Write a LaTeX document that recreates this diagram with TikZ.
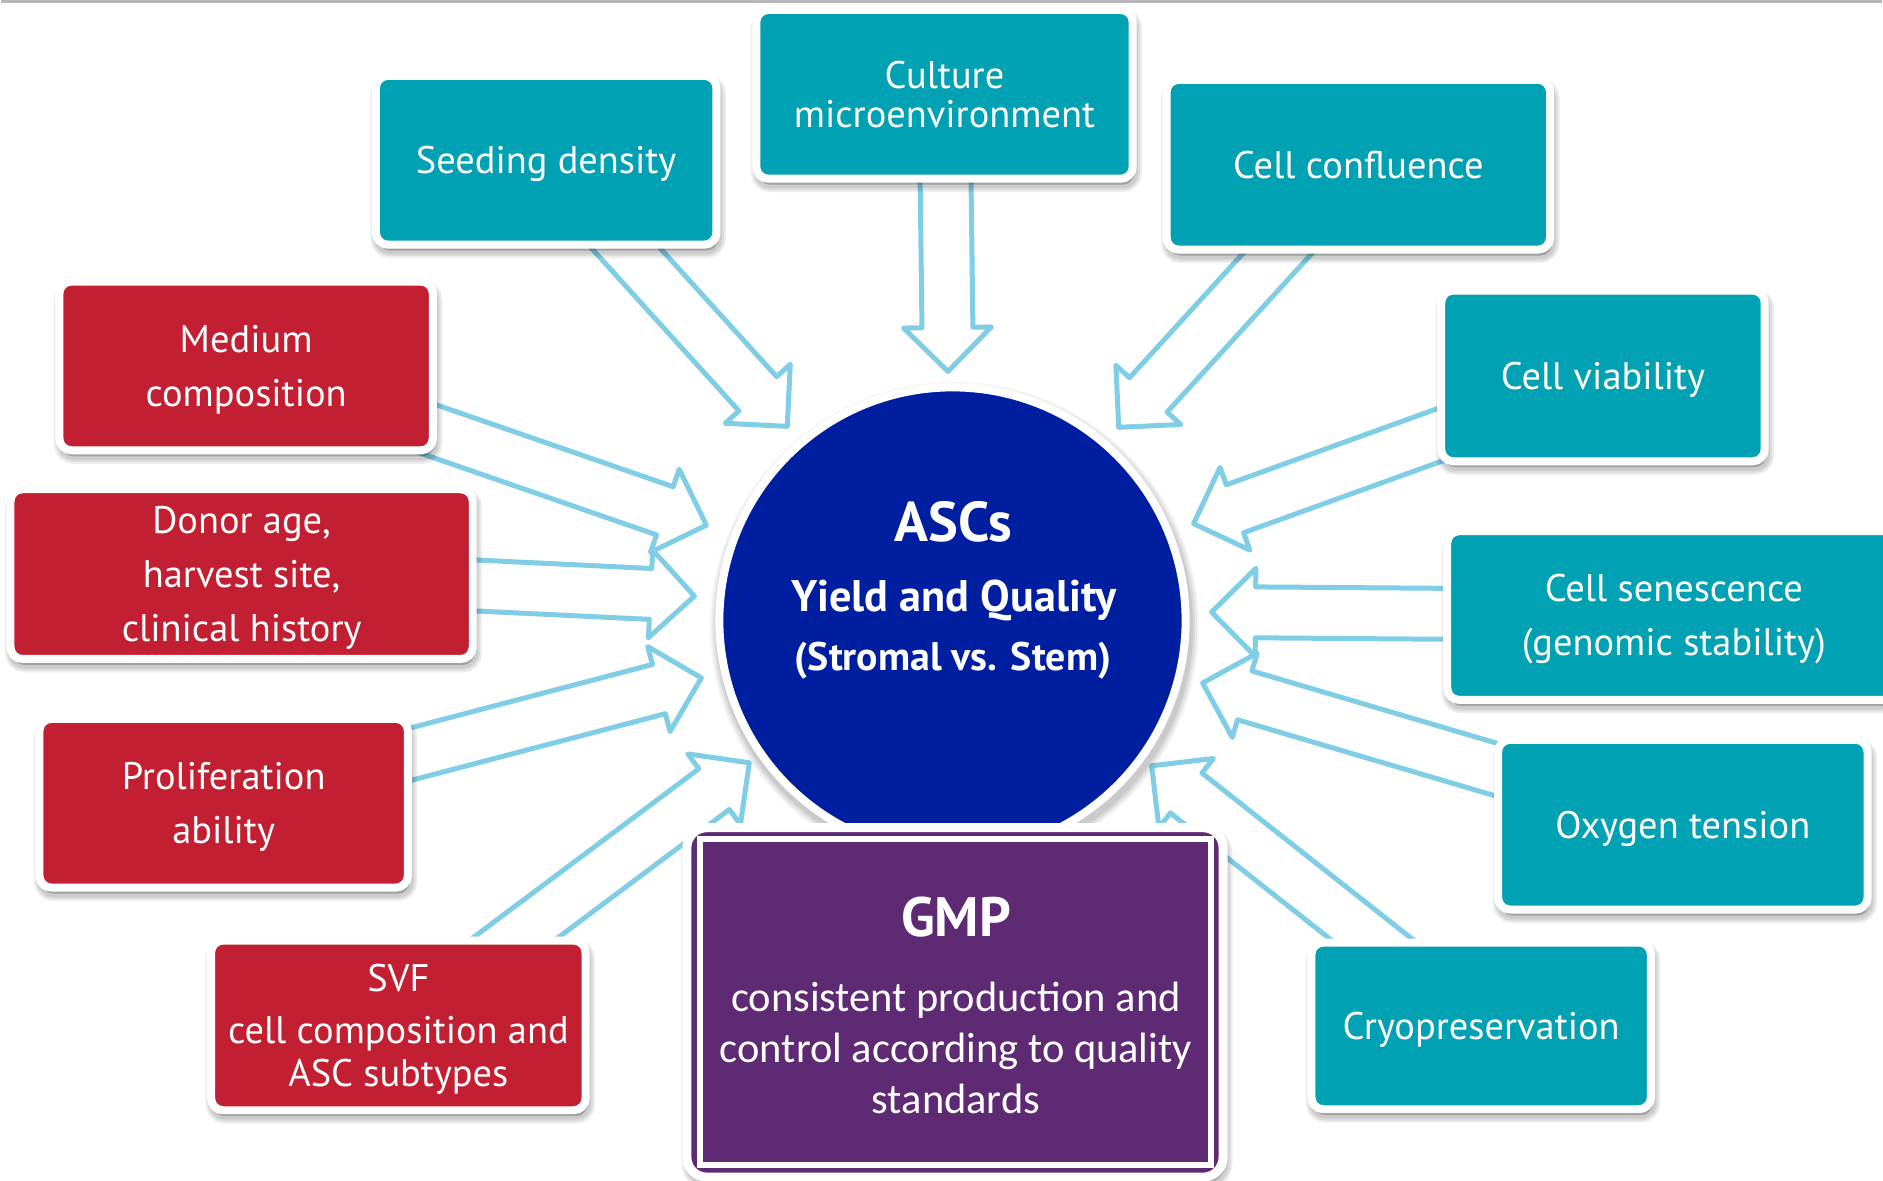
\documentclass[tikz,border=0pt]{standalone}
\usepackage{fontspec}
\setmainfont{PT Sans}
\newfontfamily\bodyfont{Carlito}
\usetikzlibrary{calc}

\definecolor{tealbox}{RGB}{0,161,178}
\definecolor{redbox}{RGB}{194,32,50}
\definecolor{gmppurple}{RGB}{94,42,116}
\definecolor{ascblue}{RGB}{0,30,160}
\definecolor{arrowblue}{RGB}{128,205,230}

\pgfdeclarelayer{back}
\pgfdeclarelayer{arrows}
\pgfsetlayers{back,arrows,main}

% top strut: with the bottom strut below it keeps lines optically centred
\newcommand\ts{\rule{0pt}{0.95em}}

\tikzset{
  shadowstep/.style={preaction={draw=black, fill=black, line width=#1,
      opacity=0.07, transform canvas={shift={(0.2mm,-0.6mm)}}}},
  softshadow/.style={shadowstep=1.5mm, shadowstep=1.1mm, shadowstep=0.7mm},
  evenlines/.style={execute at end node={\rule[-0.25em]{0pt}{0.25em}}},
  factor/.style={draw=white, line width=0.8mm, rounded corners=1.2mm,
      text=white, align=center, inner sep=0pt, softshadow, evenlines,
      font=\fontsize{10.95}{15.4}\selectfont},
  cellbox/.style={factor, fill=tealbox},
  donorbox/.style={factor, fill=redbox},
  hollow/.style={draw=arrowblue, line width=0.5mm, line join=round, line cap=round},
  whitetext/.style={text=white, inner sep=0pt},
}

% hollow block arrow from a box (#1) to a tip coordinate (#2)
\newcommand\hollowarrow[2]{%
  \coordinate (hb) at ($(#2)!4.4mm!(#1)$);
  \draw[hollow] ($(#1)!2.55mm!90:(#2)$) -- ($(hb)!2.55mm!90:(#2)$)
    -- ($(hb)!4.4mm!90:(#2)$) -- (#2) -- ($(hb)!4.4mm!-90:(#2)$)
    -- ($(hb)!2.55mm!-90:(#2)$) -- ($(#1)!2.55mm!-90:(#2)$);
}

\begin{document}
\begin{tikzpicture}[x=0.1mm,y=-0.1mm]
\begin{pgfonlayer}{back}
  \fill[white] (0,0) rectangle (1883,1182);
  \draw[black!28, line width=0.3mm] (0,1.5) -- (1883,1.5);
\end{pgfonlayer}
\useasboundingbox (0,0) rectangle (1883,1182);

% soft shadow under the central circle
\foreach \rad/\op in {24.5/0.04, 24.3/0.05, 24.1/0.06, 23.9/0.07}
  \fill[black, opacity=\op] (954.5,627.5) circle[radius=\rad mm];

% central circle
\node[circle, fill=ascblue, draw=white, line width=0.8mm, minimum size=46.7mm,
      inner sep=0pt] (asc) at (952.5,621.5) {};
\node[whitetext, anchor=base, font=\bfseries\fontsize{16}{19}\selectfont] (asctitle) at (953.5,542) {ASCs};
\node[whitetext, anchor=base, font=\bfseries\fontsize{12.6}{15}\selectfont] (ascyield) at (954,612) {Yield and Quality};
\node[whitetext, anchor=base, font=\bfseries\fontsize{11.35}{13.5}\selectfont] (ascstem) at (953,672) {(Stromal vs. Stem)};

% factor boxes
\node[cellbox, minimum width=34.1mm, minimum height=16.9mm] (seed) at (545.5,160.5) {\ts Seeding density};
\node[cellbox, minimum width=37.7mm, minimum height=16.9mm,
      font=\fontsize{10.95}{11.1}\selectfont] (culture) at (944.5,94.5) {\ts Culture\\microenvironment};
\node[cellbox, minimum width=38.4mm, minimum height=17.0mm] (confl) at (1359,165) {\ts Cell confluence};
\node[cellbox, minimum width=32.4mm, minimum height=17.1mm] (viab) at (1604,376.5) {\ts Cell viability};
\node[cellbox, minimum width=45.4mm, minimum height=16.9mm] (senes) at (1675,616.5) {\ts Cell senescence\\(genomic stability)};
\node[cellbox, minimum width=37.0mm, minimum height=17.0mm] (oxy) at (1684,826) {\ts Oxygen tension};
\node[cellbox, minimum width=34.0mm, minimum height=16.7mm] (cryo) at (1482,1027.5) {\ts Cryopreservation};
\node[donorbox, minimum width=37.5mm, minimum height=17.0mm,
      font=\fontsize{10.95}{12.2}\selectfont] (svf) at (397.5,1027) {\ts SVF\\[1mm]cell composition and\\ASC subtypes};
\node[donorbox, minimum width=36.9mm, minimum height=16.9mm] (prolif) at (222.5,804.5) {\ts Proliferation\\ability};
\node[donorbox, minimum width=46.3mm, minimum height=17.0mm] (donor) at (240.5,575) {\ts Donor age,\\harvest site,\\clinical history};
\node[donorbox, minimum width=37.4mm, minimum height=16.9mm] (medium) at (245,366.5) {\ts Medium\\composition};

% GMP panel
\node[rectangle, rounded corners=2mm, fill=gmppurple, draw=white, line width=0.9mm,
      minimum width=53.7mm, minimum height=35mm, softshadow] (gmpframe) at (955,1004) {};
\node[rectangle, fill=gmppurple, draw=white, line width=0.6mm,
      minimum width=51.15mm, minimum height=32.7mm] (gmp) at (955.75,1003.5) {};
\node[whitetext, anchor=base, font=\bfseries\fontsize{15.8}{18}\selectfont] (gmptitle) at (956,938) {GMP};
\node[whitetext, align=center, evenlines, font=\bodyfont\fontsize{12.1}{14.5}\selectfont] (gmpbody) at (956,1050)
  {\rule{0pt}{0.9em}consistent production and\\control according to quality\\standards};

% arrow tips near the circle
\coordinate (tseed) at (787,427);
\coordinate (tculture) at (948,372);
\coordinate (tconfl) at (1119,428);
\coordinate (tviab) at (1194,524.5);
\coordinate (tsenes) at (1212,613);
\coordinate (toxy) at (1203,684);
\coordinate (tcryo) at (1152,767);
\coordinate (tsvf) at (749,764);
\coordinate (tprolif) at (701,679);
\coordinate (tdonor) at (694,597);
\coordinate (tmedium) at (706,526);

\begin{pgfonlayer}{arrows}
  \hollowarrow{seed}{tseed}
  \hollowarrow{culture}{tculture}
  \hollowarrow{confl}{tconfl}
  \hollowarrow{viab}{tviab}
  \hollowarrow{senes}{tsenes}
  \hollowarrow{oxy}{toxy}
  \hollowarrow{cryo}{tcryo}
  \hollowarrow{svf}{tsvf}
  \hollowarrow{prolif}{tprolif}
  \hollowarrow{donor}{tdonor}
  \hollowarrow{medium}{tmedium}
\end{pgfonlayer}
\end{tikzpicture}
\end{document}
